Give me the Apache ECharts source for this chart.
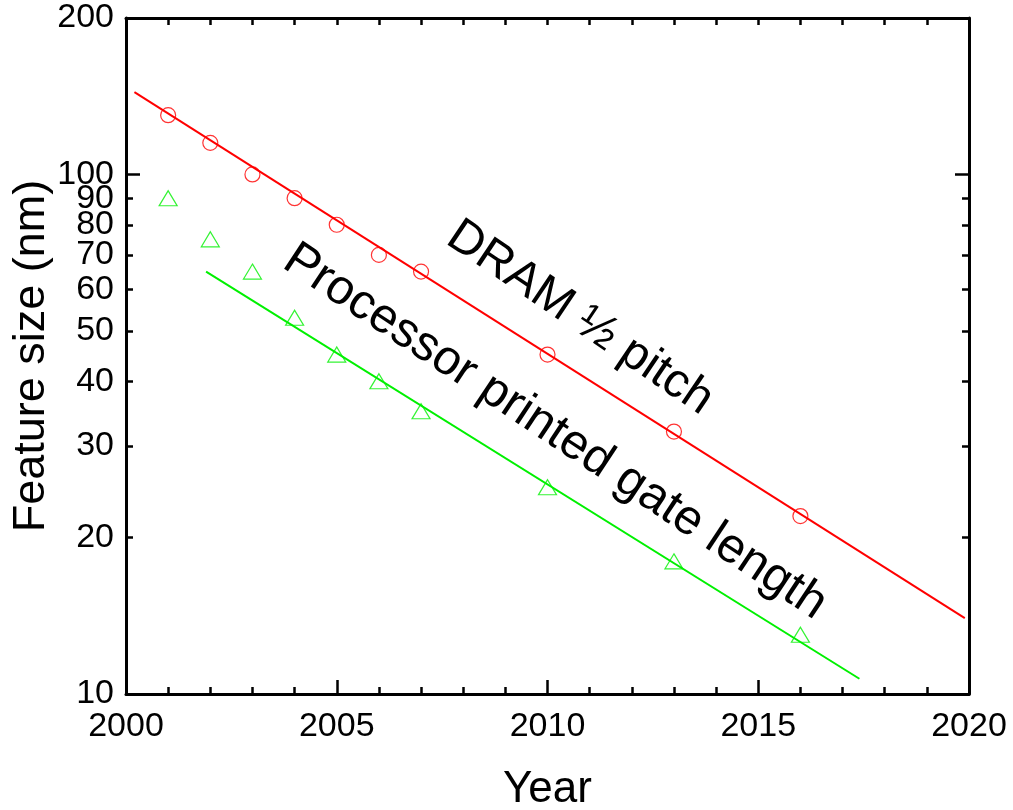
<html>
    <head>
        <meta charset="utf-8">
        <script src="https://cdn.jsdelivr.net/npm/echarts@6/dist/echarts.min.js"></script>
    </head>
    <body style="margin:0">
        <div id="main" style="width:1013px;height:810px;"></div>
        <script>
            // measured points
            var dramYears = [2001, 2002, 2003, 2004, 2005, 2006, 2007, 2010, 2013, 2016];
            var dramSize = [130, 115, 100, 90, 80, 70, 65, 45, 32, 22];
            var gateYears = [2001, 2002, 2003, 2004, 2005, 2006, 2007, 2010, 2013, 2016];
            var gateSize = [90, 75, 65, 53, 45, 40, 35, 25, 18, 13];

            // fitted trend lines (end points)
            var dramFitYears = [2000.2, 2019.9];
            var dramFitSize = [144, 14];
            var gateFitYears = [2001.9, 2017.4];
            var gateFitSize = [65, 10.7];

            var yLabels = [10, 20, 30, 40, 50, 60, 70, 80, 90, 100, 200];
            var yMajorTicks = [10, 100, 200];
            var yMinorTicks = [20, 30, 40, 50, 60, 70, 80, 90];

            function pairs(xs, ys) {
                return xs.map(function (x, i) { return [x, ys[i]]; });
            }

            var font = '"Liberation Sans", Arial, sans-serif';
            var black = '#000';
            var green = '#00f000';

            function yAxisCommon(pos, ticks, len, showLine) {
                return {
                    type: 'log',
                    logBase: 10,
                    min: 10,
                    max: 200,
                    position: pos,
                    splitLine: { show: false },
                    axisLine: { show: showLine, lineStyle: { color: black, width: 3 } },
                    axisTick: { show: true, inside: true, length: len, customValues: ticks,
                        lineStyle: { color: black, width: 2.5 } },
                    axisLabel: { show: false }
                };
            }

            var chart = echarts.init(document.getElementById('main'));

            var yLeft = yAxisCommon('left', yMajorTicks, 14, true);
            yLeft.name = 'Feature size (nm)';
            yLeft.nameLocation = 'middle';
            yLeft.nameGap = 72;
            yLeft.nameMoveOverlap = false;
            yLeft.nameTextStyle = { fontFamily: font, fontSize: 45, color: black };
            yLeft.axisLabel = {
                show: true,
                customValues: yLabels,
                margin: 12,
                fontFamily: font,
                fontSize: 34,
                color: black,
                formatter: function (v) { return String(Math.round(v)); }
            };

            chart.setOption({
                animation: false,
                backgroundColor: '#fff',
                grid: { left: 126, right: 44, top: 18, bottom: 116, outerBoundsMode: 'none', containLabel: false },
                xAxis: [
                    {
                        type: 'value',
                        min: 2000,
                        max: 2020,
                        interval: 5,
                        position: 'bottom',
                        name: 'Year',
                        nameLocation: 'middle',
                        nameGap: 74,
                        nameMoveOverlap: false,
                        nameTextStyle: { fontFamily: font, fontSize: 44, color: black },
                        splitLine: { show: false },
                        axisLine: { lineStyle: { color: black, width: 3 } },
                        axisTick: { inside: true, length: 14, lineStyle: { color: black, width: 2.5 } },
                        minorTick: { show: true, splitNumber: 5, length: 7, lineStyle: { color: black, width: 2.5 } },
                        axisLabel: { margin: 16, fontFamily: font, fontSize: 34, color: black,
                            formatter: function (v) { return String(v); } }
                    },
                    {
                        type: 'value',
                        min: 2000,
                        max: 2020,
                        interval: 5,
                        position: 'top',
                        splitLine: { show: false },
                        axisLine: { lineStyle: { color: black, width: 3 } },
                        axisTick: { inside: true, length: 7, lineStyle: { color: black, width: 2.5 } },
                        minorTick: { show: true, splitNumber: 5, length: 7, lineStyle: { color: black, width: 2.5 } },
                        axisLabel: { show: false }
                    }
                ],
                yAxis: [
                    yLeft,
                    yAxisCommon('left', yMinorTicks, 7, false),
                    yAxisCommon('right', yMajorTicks, 14, true),
                    yAxisCommon('right', yMinorTicks, 7, false)
                ],
                series: [
                    {
                        type: 'line',
                        data: pairs(dramFitYears, dramFitSize),
                        showSymbol: false,
                        lineStyle: { color: '#ff0000', width: 2 },
                        z: 2
                    },
                    {
                        type: 'line',
                        data: pairs(gateFitYears, gateFitSize),
                        showSymbol: false,
                        lineStyle: { color: green, width: 2 },
                        z: 2
                    },
                    {
                        type: 'scatter',
                        data: pairs(dramYears, dramSize),
                        symbol: 'circle',
                        symbolSize: 15,
                        itemStyle: { color: 'transparent', borderColor: '#ff0000', borderWidth: 1.2 },
                        z: 3
                    },
                    {
                        type: 'scatter',
                        data: pairs(gateYears, gateSize),
                        symbol: 'triangle',
                        symbolSize: [18, 15],
                        itemStyle: { color: 'transparent', borderColor: green, borderWidth: 1.2 },
                        z: 3
                    }
                ],
                graphic: [
                    {
                        type: 'text',
                        x: 580, y: 318,
                        rotation: -34 * Math.PI / 180,
                        style: { text: 'DRAM \u00bd pitch', fontFamily: font, fontSize: 48,
                            fill: black, align: 'center', verticalAlign: 'middle' }
                    },
                    {
                        type: 'text',
                        x: 555, y: 432,
                        rotation: -33.5 * Math.PI / 180,
                        style: { text: 'Processor printed gate length', fontFamily: font, fontSize: 49,
                            fill: black, align: 'center', verticalAlign: 'middle' }
                    }
                ]
            });
        </script>
    </body>
</html>
